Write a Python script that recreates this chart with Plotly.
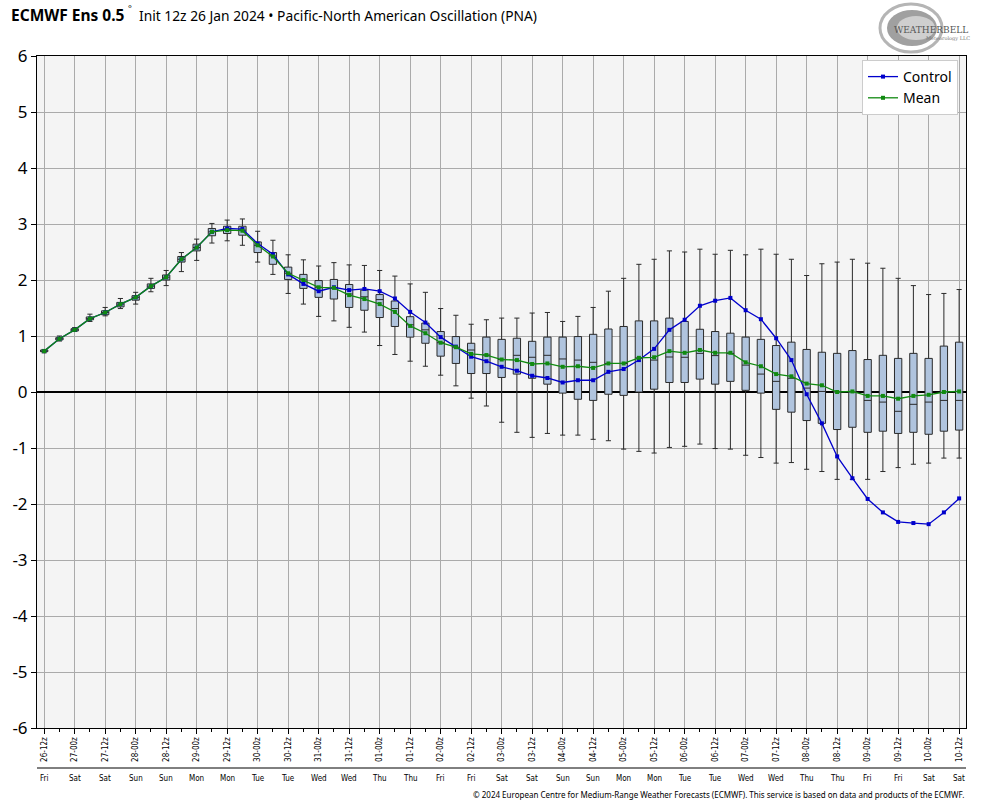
import plotly.graph_objects as go

# ---------------- data ----------------
date_labels = ["26-12z", "27-00z", "27-12z", "28-00z", "28-12z", "29-00z", "29-12z", "30-00z",
               "30-12z", "31-00z", "31-12z", "01-00z", "01-12z", "02-00z", "02-12z", "03-00z",
               "03-12z", "04-00z", "04-12z", "05-00z", "05-12z", "06-00z", "06-12z", "07-00z",
               "07-12z", "08-00z", "08-12z", "09-00z", "09-12z", "10-00z", "10-12z"]
day_labels = ["Fri", "Sat", "Sat", "Sun", "Sun", "Mon", "Mon", "Tue", "Tue", "Wed", "Wed",
              "Thu", "Thu", "Fri", "Fri", "Sat", "Sat", "Sun", "Sun", "Mon", "Mon", "Tue",
              "Tue", "Wed", "Wed", "Thu", "Thu", "Fri", "Fri", "Sat", "Sat"]
y_ticks = [-6, -5, -4, -3, -2, -1, 0, 1, 2, 3, 4, 5, 6]
y_ticktext = ["-6", "-5", "-4", "-3", "-2", "-1", "0", "1", "2", "3", "4", "5", "6"]

control = [0.73, 0.95, 1.11, 1.31, 1.42, 1.57, 1.69, 1.89, 2.05, 2.37, 2.58, 2.86, 2.92, 2.91,
           2.65, 2.46, 2.10, 1.93, 1.80, 1.87, 1.82, 1.84, 1.80, 1.67, 1.43, 1.24, 0.98, 0.81,
           0.63, 0.55, 0.45, 0.38, 0.29, 0.25, 0.17, 0.21, 0.21, 0.36, 0.41, 0.57, 0.77, 1.11,
           1.29, 1.54, 1.63, 1.68, 1.46, 1.30, 0.96, 0.57, -0.04, -0.56, -1.15, -1.54, -1.91,
           -2.15, -2.32, -2.34, -2.36, -2.15, -1.90]
mean = [0.73, 0.95, 1.11, 1.31, 1.42, 1.57, 1.69, 1.89, 2.05, 2.37, 2.58, 2.86, 2.89, 2.88,
        2.62, 2.42, 2.12, 2.00, 1.87, 1.86, 1.73, 1.66, 1.57, 1.43, 1.18, 1.05, 0.88, 0.80,
        0.68, 0.66, 0.58, 0.57, 0.50, 0.51, 0.45, 0.46, 0.43, 0.51, 0.51, 0.61, 0.62, 0.73,
        0.70, 0.75, 0.70, 0.70, 0.53, 0.46, 0.32, 0.28, 0.15, 0.12, 0.00, 0.01, -0.07, -0.07,
        -0.12, -0.07, -0.05, 0.00, 0.01]
ens_min = [0.70, 0.91, 1.08, 1.26, 1.36, 1.49, 1.57, 1.79, 1.90, 2.15, 2.35, 2.66, 2.70, 2.62,
           2.32, 2.10, 1.76, 1.57, 1.35, 1.27, 1.155, 1.07, 0.83, 0.67, 0.55, 0.46, 0.30, 0.11,
           -0.11, -0.25, -0.54, -0.72, -0.81, -0.74, -0.77, -0.77, -0.845, -0.87, -1.02, -1.06,
           -1.09, -0.99, -0.97, -0.93, -1.01, -1.02, -1.13, -1.17, -1.27, -1.26, -1.38, -1.42,
           -1.56, -1.56, -1.56, -1.42, -1.35, -1.29, -1.27, -1.18, -1.18]
ens_q1 = [0.72, 0.93, 1.09, 1.29, 1.38, 1.52, 1.64, 1.85, 2.00, 2.32, 2.52, 2.79, 2.83, 2.80,
          2.49, 2.28, 2.01, 1.85, 1.69, 1.66, 1.51, 1.46, 1.33, 1.17, 0.98, 0.87, 0.64, 0.51,
          0.33, 0.33, 0.26, 0.32, 0.245, 0.14, -0.02, -0.13, -0.15, -0.04, -0.06, 0.00, 0.05,
          0.17, 0.17, 0.23, 0.14, 0.19, 0.03, -0.02, -0.31, -0.36, -0.51, -0.56, -0.67, -0.63,
          -0.72, -0.70, -0.74, -0.72, -0.755, -0.70, -0.68]
ens_median = [0.73, 0.95, 1.11, 1.31, 1.42, 1.57, 1.69, 1.89, 2.05, 2.37, 2.58, 2.86, 2.90, 2.89,
              2.62, 2.43, 2.12, 2.00, 1.87, 1.86, 1.75, 1.70, 1.65, 1.49, 1.20, 1.11, 0.88, 0.80,
              0.75, 0.66, 0.58, 0.655, 0.62, 0.655, 0.59, 0.57, 0.53, 0.51, 0.51, 0.61, 0.57,
              0.625, 0.62, 0.69, 0.65, 0.69, 0.48, 0.32, 0.19, 0.245, 0.07, 0.01, 0.00, 0.00,
              -0.15, -0.18, -0.345, -0.22, -0.18, -0.15, -0.15]
ens_q3 = [0.75, 0.97, 1.13, 1.34, 1.45, 1.60, 1.72, 1.93, 2.09, 2.42, 2.64, 2.92, 2.96, 2.96,
          2.68, 2.49, 2.23, 2.10, 1.99, 2.01, 1.92, 1.82, 1.74, 1.625, 1.345, 1.23, 1.08, 0.99,
          0.87, 0.98, 0.94, 0.96, 0.905, 0.98, 0.98, 0.99, 1.03, 1.125, 1.17, 1.27, 1.27, 1.32,
          1.26, 1.12, 1.08, 1.05, 0.98, 0.94, 0.83, 0.89, 0.76, 0.71, 0.69, 0.74, 0.58, 0.655,
          0.60, 0.69, 0.60, 0.82, 0.89]
ens_max = [0.76, 1.00, 1.15, 1.39, 1.51, 1.67, 1.78, 2.03, 2.17, 2.49, 2.73, 3.01, 3.07, 3.09,
           2.87, 2.71, 2.45, 2.36, 2.25, 2.31, 2.27, 2.26, 2.17, 2.07, 1.93, 1.78, 1.49, 1.37,
           1.21, 1.29, 1.32, 1.32, 1.41, 1.42, 1.26, 1.35, 1.51, 1.80, 2.03, 2.28, 2.37, 2.52,
           2.50, 2.55, 2.46, 2.53, 2.45, 2.55, 2.46, 2.37, 2.08, 2.29, 2.32, 2.37, 2.30, 2.21,
           2.03, 1.90, 1.74, 1.76, 1.83]

steps = list(range(len(control)))  # 6-hourly forecast steps

# ---------------- layout helpers ----------------
W, H = 984, 808
L, R, T, B = 37, 966, 56, 728


def px(xp):
    return (xp - L) / (R - L)


def py(yp):
    return (B - yp) / (B - T)


fig = go.Figure()

fig.add_trace(go.Box(
    x=steps, q1=ens_q1, median=ens_median, q3=ens_q3,
    lowerfence=ens_min, upperfence=ens_max,
    width=0.48, whiskerwidth=0.7,
    fillcolor="#b0c4de", line=dict(color="#2a2a2a", width=1),
    showlegend=False, hoverinfo="skip", boxpoints=False,
))

fig.add_trace(go.Scatter(
    x=steps, y=control, mode="lines+markers", name="Control",
    line=dict(color="#0000cc", width=1.3),
    marker=dict(symbol="square", size=4, color="#0000cc"),
))
fig.add_trace(go.Scatter(
    x=steps, y=mean, mode="lines+markers", name="Mean",
    line=dict(color="#118a11", width=1.3),
    marker=dict(symbol="square", size=4, color="#118a11"),
))

major = list(range(0, len(steps), 2))
minor = list(range(1, len(steps), 2))

fig.update_xaxes(
    range=[-0.47, 60.45], tickmode="array", tickvals=major, ticktext=date_labels,
    tickangle=-90, tickfont=dict(family="DejaVu Sans Condensed, DejaVu Sans", size=8, color="black"),
    ticks="outside", ticklen=5, tickcolor="black",
    showgrid=True, gridcolor="#aaaaaa", gridwidth=1,
    showline=True, linecolor="black", linewidth=1, mirror=True,
    minor=dict(tickvals=minor, ticks="outside", ticklen=3, tickcolor="black", showgrid=False),
    zeroline=False,
)
fig.update_yaxes(
    range=[-6, 6], tickmode="array", tickvals=y_ticks, ticktext=y_ticktext,
    tickfont=dict(family="Noto Sans", size=17, color="black"),
    ticks="outside", ticklen=5, tickcolor="black",
    showgrid=True, gridcolor="#aaaaaa", gridwidth=1,
    showline=True, linecolor="black", linewidth=1, mirror=True,
    zeroline=True, zerolinecolor="black", zerolinewidth=1.5,
)

annotations = []
# day names under the separator line
for v, d in zip(major, day_labels):
    annotations.append(dict(
        x=v, y=py(778), xref="x", yref="paper", text=d, showarrow=False,
        font=dict(family="DejaVu Sans Condensed, DejaVu Sans", size=8, color="black"),
        xanchor="center", yanchor="middle",
    ))
# title (three parts)
annotations.append(dict(
    x=px(9), y=py(14.5), xref="paper", yref="paper", showarrow=False,
    xanchor="left", yanchor="middle", text="<b>ECMWF Ens 0.5</b>",
    font=dict(family="Noto Sans", size=15.5, color="black"),
))
annotations.append(dict(
    x=px(126), y=py(9), xref="paper", yref="paper", showarrow=False,
    xanchor="left", yanchor="middle", text="°",
    font=dict(family="Noto Sans", size=9, color="black"),
))
annotations.append(dict(
    x=px(539), y=py(15), xref="paper", yref="paper", showarrow=False,
    xanchor="right", yanchor="middle",
    text="Init 12z 26 Jan 2024 • Pacific-North American Oscillation (PNA)",
    font=dict(family="Noto Sans", size=13.8, color="black"),
))
# copyright
annotations.append(dict(
    x=1.0, y=py(794), xref="paper", yref="paper", showarrow=False,
    xanchor="right", yanchor="middle",
    text="© 2024 European Centre for Medium-Range Weather Forecasts (ECMWF). This service is based on data and products of the ECMWF.",
    font=dict(family="Noto Sans", size=8, color="black"),
))
# logo text
annotations.append(dict(
    x=px(931), y=py(30), xref="paper", yref="paper", showarrow=False,
    xanchor="center", yanchor="middle", text="WEATHERBELL",
    font=dict(family="DejaVu Serif", size=9, color="#555555"),
))
annotations.append(dict(
    x=px(948), y=py(38), xref="paper", yref="paper", showarrow=False,
    xanchor="center", yanchor="middle", text="Meteorology LLC",
    font=dict(family="DejaVu Serif", size=5, color="#777777"),
))

shapes = [
    dict(type="line", xref="paper", yref="paper", x0=0, x1=1, y0=py(768), y1=py(768),
         line=dict(color="black", width=1)),
    # logo swirl
    dict(type="circle", xref="paper", yref="paper", x0=px(880), x1=px(942), y0=py(52), y1=py(4),
         line=dict(color="#b5b5b5", width=3), fillcolor="rgba(0,0,0,0)", layer="below"),
    dict(type="circle", xref="paper", yref="paper", x0=px(887), x1=px(937), y0=py(46), y1=py(10),
         line=dict(color="#999999", width=0), fillcolor="#a0a0a0", layer="below"),
    dict(type="circle", xref="paper", yref="paper", x0=px(897), x1=px(935), y0=py(40), y1=py(16),
         line=dict(color="#bbbbbb", width=0), fillcolor="#cfcfcf", layer="below"),
]

fig.update_layout(
    width=W, height=H,
    margin=dict(l=L, r=W - R, t=T, b=H - B),
    paper_bgcolor="white", plot_bgcolor="#f4f4f4",
    showlegend=True,
    legend=dict(x=px(958), y=py(60), xanchor="right", yanchor="top",
                bgcolor="white", bordercolor="#cccccc", borderwidth=1,
                font=dict(family="Noto Sans", size=14, color="black"),
                itemwidth=30),
    annotations=annotations, shapes=shapes,
    font=dict(family="Noto Sans"),
)

fig.write_html("out.html")
